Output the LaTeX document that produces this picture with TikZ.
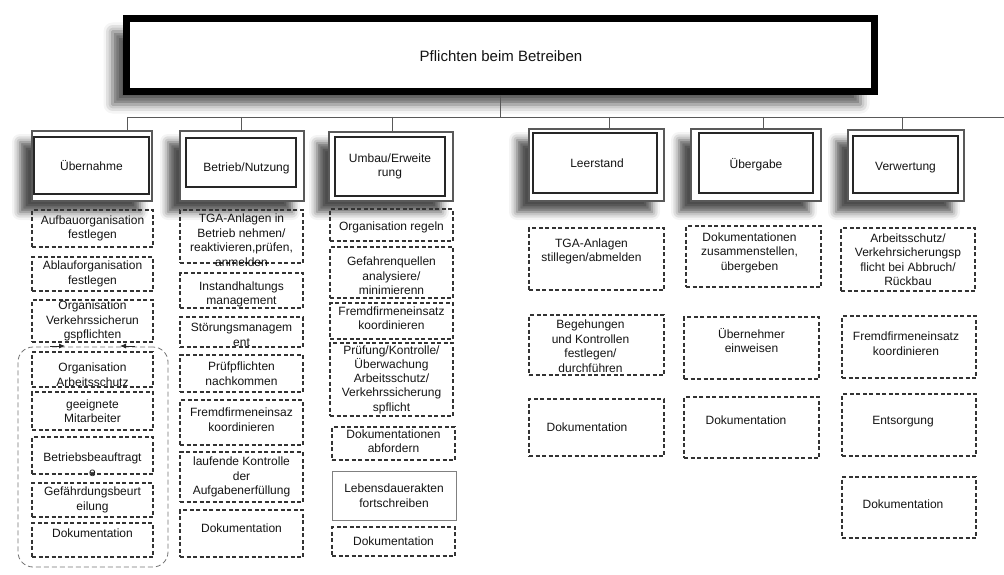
\documentclass[tikz,border=0pt]{standalone}
\usepackage{fontspec}
\setmainfont{Liberation Sans}
\usetikzlibrary{shadows.blur,arrows.meta}
\tikzset{
  txt/.style={font=\fontsize{12}{14.5}\selectfont, align=center, inner sep=0pt, text=black!92},
  dbox/.style={draw=black!80, line width=1.1pt, dash pattern=on 4pt off 2.5pt, inner sep=0pt},
  sbox/.style={draw=black!50, line width=0.9pt, inner sep=0pt},
  hout/.style={draw=black!65, line width=1.4pt, fill=white, inner sep=0pt,
    blur shadow={shadow xshift=-12pt, shadow yshift=-11pt, shadow blur radius=8pt, shadow opacity=70}},
  hin/.style={draw=black!85, line width=1.6pt, fill=white, inner sep=0pt},
  topbox/.style={draw=black, line width=7pt, fill=white, inner sep=0pt,
    blur shadow={shadow xshift=-14pt, shadow yshift=-13pt, shadow blur radius=9pt, shadow opacity=65}},
  bus/.style={draw=black!65, line width=0.8pt},
  grp/.style={draw=black!55, line width=0.8pt, dash pattern=on 5pt off 3pt, rounded corners=15pt, inner sep=0pt},
  tipline/.style={draw=black!85, line width=0.8pt, -{Latex[length=6pt,width=5pt]}},
}
\newcommand{\mkbox}[6][dbox]{%
  \pgfmathsetmacro\bxw{#5-#3}\pgfmathsetmacro\bxh{#6-#4}%
  \node[#1,minimum width=\bxw pt,minimum height=\bxh pt] (#2) at ({(#3+#5)/2},{(#4+#6)/2}) {};}
\newcommand{\mktext}[3]{\node[txt,#2] (#1-t) at (#1.center) {#3};}
\begin{document}
\begin{tikzpicture}[x=1pt,y=-1pt]
\useasboundingbox (0,0) rectangle (1004,575);

% top box
\mkbox[topbox]{top}{126.5}{18.5}{874.5}{91.5}
\mktext{top}{font=\fontsize{15}{18}\selectfont, xshift=0.5pt, yshift=-1.5pt}{Pflichten beim Betreiben}

% bus
\coordinate (busL) at (127,117);
\coordinate (busR) at (1004,117);
\draw[bus] (busL) -- (busR);
\draw[bus] (top.south) -- (top.south |- busL);

% headers
\mkbox[hout]{h1o}{32}{131}{152}{201}
\mkbox[hin]{h1}{34}{137}{149}{194}
\mktext{h1}{}{Übernahme}
\mkbox[hout]{h2o}{180}{131}{304}{201}
\mkbox[hin]{h2}{186}{138}{296}{187}
\mktext{h2}{xshift=5.5pt,yshift=-5.5pt}{Betrieb/Nutzung}
\mkbox[hout]{h3o}{329}{132}{453}{201}
\mkbox[hin]{h3}{335}{137}{445}{196}
\mktext{h3}{}{Umbau/Erweite\\rung}
\mkbox[hout]{h4o}{529}{129}{664}{201}
\mkbox[hin]{h4}{533}{133}{657}{193}
\mktext{h4}{xshift=2pt}{Leerstand}
\mkbox[hout]{h5o}{691}{129}{821}{201}
\mkbox[hin]{h5}{699}{133}{813}{193}
\mktext{h5}{yshift=-2pt}{Übergabe}
\mkbox[hout]{h6o}{848}{130}{964}{201}
\mkbox[hin]{h6}{853}{136}{958}{193}
\mktext{h6}{yshift=-3.5pt}{Verwertung}

% drops
\coordinate (d1) at (127,117);
\coordinate (d2) at (241,117);
\coordinate (d3) at (392,117);
\coordinate (d4) at (609,117);
\coordinate (d5) at (763,117);
\coordinate (d6) at (902,117);
\draw[bus] (d1) -- (d1 |- h1o.north);
\draw[bus] (d2) -- (d2 |- h2o.north);
\draw[bus] (d3) -- (d3 |- h3o.north);
\draw[bus] (d4) -- (d4 |- h4o.north);
\draw[bus] (d5) -- (d5 |- h5o.north);
\draw[bus] (d6) -- (d6 |- h6o.north);

% column 1
\mkbox{c1a}{32}{210}{153}{247}
\mktext{c1a}{}{Aufbauorganisation\\festlegen}
\mkbox{c1b}{32}{257}{153}{291}
\mktext{c1b}{}{Ablauforganisation\\festlegen}
\mkbox{c1c}{32}{300}{153}{342}
\mktext{c1c}{}{Organisation\\Verkehrssicherun\\gspflichten}
\mkbox[grp]{grp}{18}{347}{168}{567}
\coordinate (ga1) at (50,346);
\coordinate (ga2) at (65,346);
\coordinate (gb1) at (135,346);
\coordinate (gb2) at (120,346);
\draw[tipline] (ga1) -- (ga2);
\draw[tipline] (gb1) -- (gb2);
\mkbox{c1d}{32}{352}{153}{387}
\mktext{c1d}{yshift=-5pt}{Organisation\\Arbeitsschutz}
\mkbox{c1e}{32}{392}{153}{430}
\mktext{c1e}{}{geeignete\\Mitarbeiter}
\mkbox{c1f}{32}{437}{153}{474}
\mktext{c1f}{yshift=-9pt}{Betriebsbeauftragt\\e}
\mkbox{c1g}{32}{483}{153}{517}
\mktext{c1g}{}{Gefährdungsbeurt\\eilung}
\mkbox{c1h}{32}{523}{153}{557}
\mktext{c1h}{yshift=7pt}{Dokumentation}

% column 2
\mkbox{c2a}{180}{210}{303}{263}
\mktext{c2a}{yshift=-3.5pt}{TGA-Anlagen in\\Betrieb nehmen/\\reaktivieren,prüfen,\\anmelden}
\mkbox{c2b}{180}{273}{303}{308}
\mktext{c2b}{yshift=-4pt}{Instandhaltungs\\management}
\mkbox{c2c}{180}{317}{303}{347}
\mktext{c2c}{yshift=-3pt}{Störungsmanagem\\ent}
\mkbox{c2d}{180}{355}{303}{392}
\mktext{c2d}{}{Prüfpflichten\\nachkommen}
\mkbox{c2e}{180}{400}{303}{445}
\mktext{c2e}{yshift=3pt}{Fremdfirmeneinsaz\\koordinieren}
\mkbox{c2f}{180}{452}{303}{502}
\mktext{c2f}{}{laufende Kontrolle\\der\\Aufgabenerfüllung}
\mkbox{c2g}{180}{510}{303}{557}
\mktext{c2g}{yshift=5.5pt}{Dokumentation}

% column 3
\mkbox{c3a}{330}{209}{453}{241}
\mktext{c3a}{yshift=-2pt}{Organisation regeln}
\mkbox{c3b}{330}{247}{453}{298}
\mktext{c3b}{yshift=-3.5pt}{Gefahrenquellen\\analysiere/\\minimierenn}
\mkbox{c3c}{330}{303}{453}{339}
\mktext{c3c}{yshift=3pt}{Fremdfirmeneinsatz\\koordinieren}
\mkbox{c3d}{330}{343}{453}{416}
\mktext{c3d}{font=\fontsize{12}{14.2}\selectfont}{Prüfung/Kontrolle/\\Überwachung\\Arbeitsschutz/\\Verkehrssicherung\\spflicht}
\mkbox{c3e}{332}{427}{455}{460}
\mktext{c3e}{yshift=2.5pt}{Dokumentationen\\abfordern}
\mkbox[sbox]{c3f}{332}{471}{456}{520}
\mktext{c3f}{}{Lebensdauerakten\\fortschreiben}
\mkbox{c3g}{332}{527}{455}{556}
\mktext{c3g}{}{Dokumentation}

% column 4
\mkbox{c4a}{529}{228}{664}{290}
\mktext{c4a}{xshift=-5pt,yshift=7.5pt}{TGA-Anlagen\\stillegen/abmelden}
\mkbox{c4b}{529}{315}{664}{375}
\mktext{c4b}{xshift=-6pt,yshift=-1pt}{Begehungen\\und Kontrollen\\festlegen/\\durchführen}
\mkbox{c4c}{529}{399}{664}{456}
\mktext{c4c}{xshift=-9.5pt}{Dokumentation}

% column 5
\mkbox{c5a}{686}{226}{821}{287}
\mktext{c5a}{xshift=-4pt,yshift=4pt}{Dokumentationen\\zusammenstellen,\\übergeben}
\mkbox{c5b}{684}{317}{819}{379}
\mktext{c5b}{yshift=7.5pt}{Übernehmer\\einweisen}
\mkbox{c5c}{684}{397}{819}{458}
\mktext{c5c}{xshift=-5.5pt,yshift=7.5pt}{Dokumentation}

% column 6
\mkbox{c6a}{841}{228}{975}{291}
\mktext{c6a}{}{Arbeitsschutz/\\Verkehrsicherungsp\\flicht bei Abbruch/\\Rückbau}
\mkbox{c6b}{842}{316}{976}{378}
\mktext{c6b}{xshift=-3pt,yshift=3.5pt}{Fremdfirmeneinsatz\\koordinieren}
\mkbox{c6c}{842}{394}{976}{456}
\mktext{c6c}{xshift=-6pt,yshift=3pt}{Entsorgung}
\mkbox{c6d}{842}{477}{976}{538}
\mktext{c6d}{xshift=-6pt,yshift=3.5pt}{Dokumentation}
\end{tikzpicture}
\end{document}
